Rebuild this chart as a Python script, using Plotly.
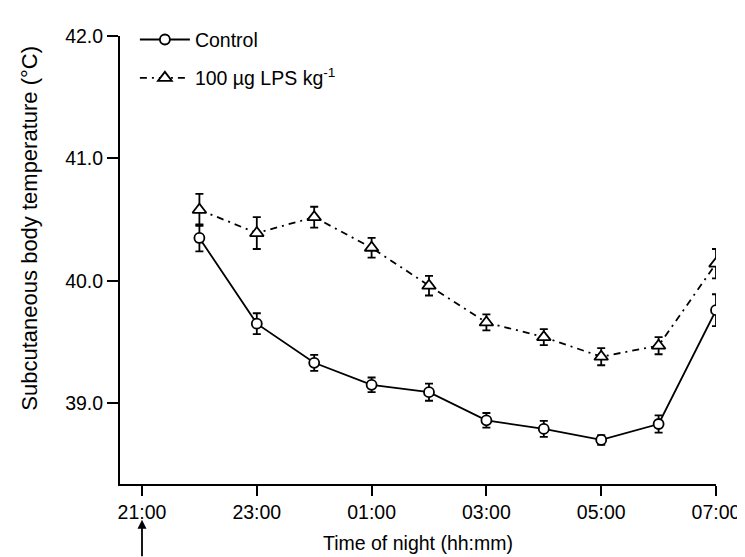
import plotly.graph_objects as go

# time points (hours of the night, 22:00 to 07:00 next morning)
times = ["2000-01-01 22:00", "2000-01-01 23:00", "2000-01-02 00:00", "2000-01-02 01:00",
         "2000-01-02 02:00", "2000-01-02 03:00", "2000-01-02 04:00", "2000-01-02 05:00",
         "2000-01-02 06:00", "2000-01-02 07:00"]

control = [40.35, 39.65, 39.33, 39.15, 39.09, 38.86, 38.79, 38.70, 38.83, 39.76]
control_err = [0.11, 0.085, 0.065, 0.06, 0.07, 0.06, 0.065, 0.04, 0.07, 0.13]

lps = [40.58, 40.39, 40.52, 40.27, 39.96, 39.66, 39.54, 39.38, 39.47, 40.14]
lps_err = [0.13, 0.13, 0.085, 0.08, 0.08, 0.065, 0.065, 0.07, 0.07, 0.12]

tick_times = ["2000-01-01 21:00", "2000-01-01 23:00", "2000-01-02 01:00",
              "2000-01-02 03:00", "2000-01-02 05:00", "2000-01-02 07:00"]
tick_labels = ["21:00", "23:00", "01:00", "03:00", "05:00", "07:00"]
y_ticks = [39.0, 40.0, 41.0, 42.0]

FONT = "Liberation Sans, Arial, sans-serif"

fig = go.Figure()

fig.add_trace(go.Scatter(
    x=times, y=control, name="Control", legendgroup="c",
    mode="lines+markers",
    line=dict(color="black", width=1.8),
    marker=dict(symbol="circle", size=10, color="white",
                line=dict(color="black", width=1.8)),
    error_y=dict(type="data", array=control_err, color="black",
                 thickness=1.8, width=4),
))

fig.add_trace(go.Scatter(
    x=times, y=lps, name="100 µg LPS kg<sup>-1</sup>", legendgroup="l",
    mode="lines+markers",
    line=dict(color="black", width=1.8, dash="7px,5px,2px,5px"),
    marker=dict(symbol="triangle-up", size=12, color="white",
                line=dict(color="black", width=1.8)),
    error_y=dict(type="data", array=lps_err, color="black",
                 thickness=1.8, width=4),
))

# arrow under 21:00 (injection time)
fig.add_annotation(
    x="2000-01-01 21:00", y=-0.08, xref="x", yref="paper",
    ax=0, ay=38, text="", showarrow=True,
    arrowhead=2, arrowsize=1.0, arrowwidth=1.8, arrowcolor="black",
)

# y axis title, placed by hand (sits a bit above the plot centre)
fig.add_annotation(
    text="Subcutaneous body temperature (°C)",
    xref="paper", yref="paper", x=0, y=0.57,
    xshift=-90, textangle=-90, showarrow=False,
    xanchor="center", yanchor="middle",
    font=dict(size=22),
)

fig.update_layout(
    width=745, height=557,
    margin=dict(l=112, r=23, t=19, b=81),
    plot_bgcolor="white", paper_bgcolor="white",
    font=dict(family=FONT, size=20, color="black"),
    showlegend=True,
    legend=dict(x=0.025, y=1.035, xanchor="left", yanchor="top",
                bgcolor="rgba(0,0,0,0)", font=dict(size=19.5),
                itemwidth=50, traceorder="grouped", tracegroupgap=10),
)

fig.update_xaxes(
    range=["2000-01-01 20:37", "2000-01-02 07:00"],
    tickvals=tick_times, ticktext=tick_labels,
    tickfont=dict(size=19.5), ticklabeloverflow="allow",
    showline=True, linecolor="black", linewidth=2,
    ticks="outside", ticklen=10, tickwidth=2, tickcolor="black",
    showgrid=False, zeroline=False,
    title=dict(text="Time of night (hh:mm)", font=dict(size=19.5), standoff=14),
)

fig.update_yaxes(
    range=[38.34, 42.0],
    tickvals=y_ticks, tickformat=".1f", tickfont=dict(size=19.5),
    showline=True, linecolor="black", linewidth=2,
    ticks="outside", ticklen=11, tickwidth=2, tickcolor="black",
    showgrid=False, zeroline=False,
)

fig.write_html("out.html")
